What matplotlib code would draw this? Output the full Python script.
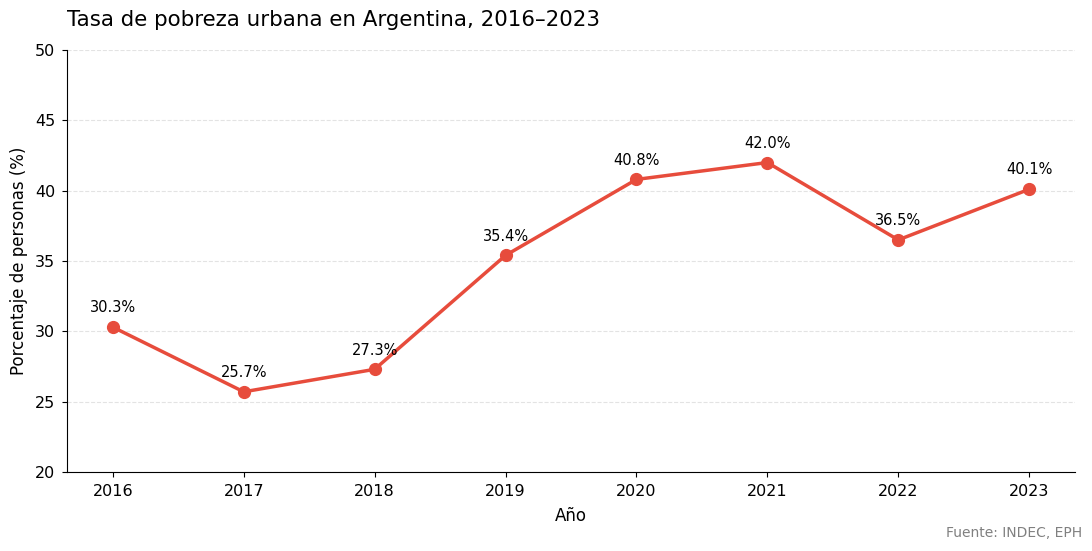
import matplotlib
matplotlib.use("Agg")
import matplotlib.pyplot as plt

years = [2016, 2017, 2018, 2019, 2020, 2021, 2022, 2023]
poverty = [30.3, 25.7, 27.3, 35.4, 40.8, 42.0, 36.5, 40.1]
yticks = [20, 25, 30, 35, 40, 45, 50]

fig = plt.figure(figsize=(10.92, 5.51), dpi=100)
ax = fig.add_axes([67/1092, 1 - 472/551, (1075-67)/1092, (472-50)/551])

ax.plot(years, poverty, color="#e74c3c", linewidth=2.5, marker="o", markersize=8.5, zorder=3)
for x, y in zip(years, poverty):
    ax.annotate(f"{y:.1f}%", (x, y), textcoords="offset points", xytext=(0, 8.5),
                ha="center", va="bottom", fontsize=10.5)

ax.set_ylim(20, 50)
ax.set_yticks(yticks)
ax.set_xticks(years)
ax.set_xlim(2015.65, 2023.35)
ax.tick_params(labelsize=11.5, pad=5)
ax.grid(axis="y", linestyle="--", color="#dddddd", alpha=0.8, linewidth=0.8)
ax.set_axisbelow(True)
for s in ["top", "right"]:
    ax.spines[s].set_visible(False)
ax.set_xlabel("Año", fontsize=12, labelpad=6)
ax.set_ylabel("Porcentaje de personas (%)", fontsize=12, labelpad=5)
fig.text(67/1092, 1 - 20/551, "Tasa de pobreza urbana en Argentina, 2016–2023",
         fontsize=15.4, ha="left", va="center")
fig.text(1082/1092, 1 - 533/551, "Fuente: INDEC, EPH", fontsize=10, color="gray",
         ha="right", va="center")

fig.savefig("out.png", dpi=100)
